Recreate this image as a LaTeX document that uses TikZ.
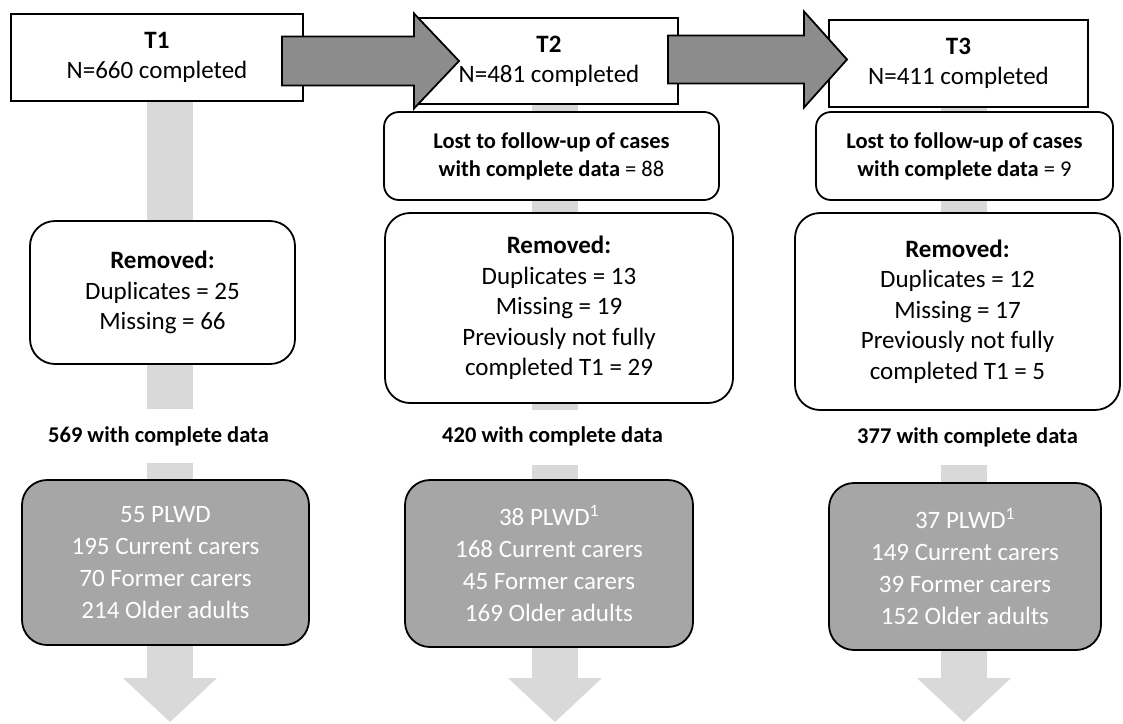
\documentclass[tikz,border=0pt]{standalone}
\usepackage{fontspec}
\setmainfont{Carlito}
\usetikzlibrary{positioning, arrows.meta, backgrounds}

\definecolor{bandgrey}{gray}{0.85}
\definecolor{arrowgrey}{gray}{0.55}
\definecolor{boxgrey}{gray}{0.65}

\begin{document}
\begin{tikzpicture}[x=1pt, y=-1pt,
            tbox/.style={draw=black, line width=1.8pt, rectangle, fill=white, align=center, font=\fontsize{25}{30}\selectfont},
            lostbox/.style={draw=black, line width=1.8pt, rounded corners=15pt, fill=white, align=center, minimum height=88pt, font=\fontsize{22.5}{28}\selectfont},
            rembox/.style={draw=black, line width=1.8pt, rounded corners=25pt, fill=white, align=center, font=\fontsize{25}{30.5}\selectfont},
            countlabel/.style={font=\bfseries\fontsize{22.5}{27}\selectfont, inner sep=0pt, anchor=base},
            groupbox/.style={draw=black, line width=1.8pt, rounded corners=25pt, fill=boxgrey, text=white, align=center, font=\fontsize{25}{32}\selectfont},
            band/.style={draw=bandgrey, line width=46pt},
            downarrow/.style={band, -{Triangle[width=94pt, length=44pt, line width=0pt]}},
            bigarrow/.style={draw=black, line width=1.8pt, fill=arrowgrey, line join=miter}
        ]
        \useasboundingbox (0,0) rectangle (1123,723);

        % Knoten
        \node[tbox, minimum width=292pt, minimum height=87pt] (t1) at (157,57.5) {\textbf{T1}\\N=660 completed};
        \node[tbox, minimum width=258pt, minimum height=86pt] (t2) at (549,61) {\textbf{T2}\\N=481 completed};
        \node[tbox, minimum width=259pt, minimum height=87pt] (t3) at (958.5,63.5) {\textbf{T3}\\N=411 completed};

        \node[lostbox, minimum width=335pt] (lost2) at (551.5,156) {\textbf{Lost to follow-up of cases}\\\textbf{with complete data} = 88};
        \node[lostbox, minimum width=297pt] (lost3) at (964.5,156) {\textbf{Lost to follow-up of cases}\\\textbf{with complete data} = 9};

        \node[rembox, minimum width=265pt, minimum height=143pt] (rem1) at (162.5,292.5) {\textbf{Removed:}\\Duplicates = 25\\Missing = 66};
        \node[rembox, minimum width=348pt, minimum height=190pt] (rem2) at (559,308) {\textbf{Removed:}\\Duplicates = 13\\Missing = 19\\Previously not fully\\completed T1 = 29};
        \node[rembox, minimum width=325pt, minimum height=197pt] (rem3) at (957.5,311.5) {\textbf{Removed:}\\Duplicates = 12\\Missing = 17\\Previously not fully\\completed T1 = 5};

        \node[countlabel] (n1) at (158.5,442) {569 with complete data};
        \node[countlabel] (n2) at (552.5,442) {420 with complete data};
        \node[countlabel] (n3) at (967.5,443) {377 with complete data};

        \node[groupbox, minimum width=287pt, minimum height=165pt] (grp1) at (165.5,562.5) {55 PLWD\\195 Current carers\\70 Former carers\\214 Older adults};
        \node[groupbox, minimum width=288pt, minimum height=167pt] (grp2) at (549,563.5) {38 PLWD\textsuperscript{1}\\168 Current carers\\45 Former carers\\169 Older adults};
        \node[groupbox, minimum width=272pt, minimum height=167pt] (grp3) at (965,566.5) {37 PLWD\textsuperscript{1}\\149 Current carers\\39 Former carers\\152 Older adults};

        % Baender hinter den Knoten
        \begin{pgfonlayer}{background}
            \coordinate (u1) at (170,409);
            \coordinate (u2) at (555,410);
            \coordinate (u3) at (964,410);
            \coordinate (l1) at (170,463);
            \coordinate (l2) at (555,465);
            \coordinate (l3) at (964,465);
            \coordinate (e1) at (170,722);
            \coordinate (e2) at (555,722);
            \coordinate (e3) at (964,722);

            \draw[band] (t1.south -| u1) -- (u1);
            \draw[band] (t2.south -| u2) -- (u2);
            \draw[band] (t3.south -| u3) -- (u3);
            \draw[downarrow] (l1) -- (e1);
            \draw[downarrow] (l2) -- (e2);
            \draw[downarrow] (l3) -- (e3);
        \end{pgfonlayer}

        % Pfeile zwischen den Zeitpunkten
        \coordinate (a1) at (282,61);
        \coordinate (a2) at (668,59.5);
        \filldraw[bigarrow] (a1) ++(0,-24.5) -- ++(132,0) -- ++(0,-23) -- ++(45,47.5) -- ++(-45,47.5) -- ++(0,-23) -- ++(-132,0) -- cycle;
        \filldraw[bigarrow] (a2) ++(0,-24) -- ++(136,0) -- ++(0,-24) -- ++(43,48) -- ++(-43,48) -- ++(0,-24) -- ++(-136,0) -- cycle;

    \end{tikzpicture}
\end{document}
